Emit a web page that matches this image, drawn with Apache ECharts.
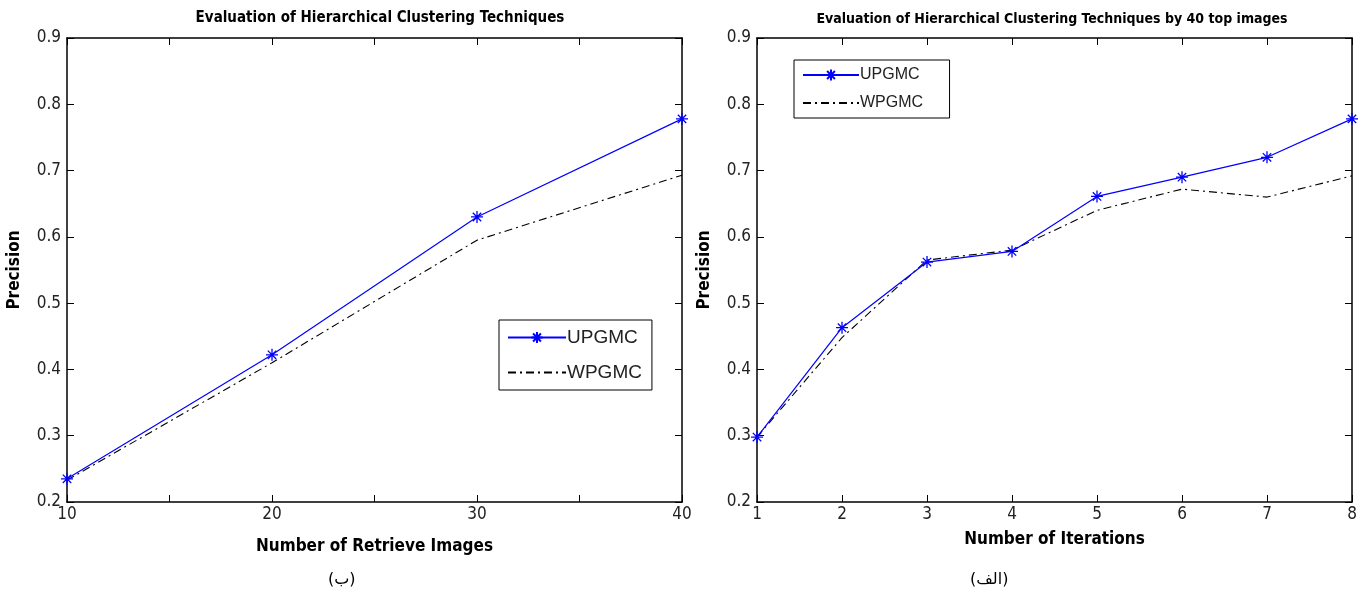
<!DOCTYPE html>
<html>
<head>
<meta charset="utf-8">
<script src="https://cdn.jsdelivr.net/npm/echarts@6/dist/echarts.min.js"></script>
<style>
  html, body { margin: 0; padding: 0; background: #fff; }
  #chart { width: 1370px; height: 601px; }
</style>
</head>
<body>
<div id="chart"></div>
<script>
// left panel: precision vs number of retrieved images
const retrieveX = [10, 20, 30, 40];
const retrieveUpgmc = [0.235, 0.422, 0.63, 0.778];
const retrieveWpgmc = [0.233, 0.41, 0.595, 0.693];

// right panel: precision vs iterations (40 top images)
const iterX = [1, 2, 3, 4, 5, 6, 7, 8];
const iterUpgmc = [0.298, 0.463, 0.562, 0.578, 0.661, 0.69, 0.72, 0.778];
const iterWpgmc = [0.298, 0.448, 0.565, 0.58, 0.64, 0.672, 0.66, 0.692];

const yTicks = [0.2, 0.3, 0.4, 0.5, 0.6, 0.7, 0.8, 0.9];

const narrow = '"DejaVu Sans Condensed", "Liberation Sans Narrow", "Liberation Sans", sans-serif';
const star = 'path://M0,-5L0,5M-5,0L5,0M-3.5,-3.5L3.5,3.5M-3.5,3.5L3.5,-3.5';
const dashDot = [8, 4, 2, 4];

function pairs(xs, ys) {
  return xs.map((x, i) => [x, ys[i]]);
}

const chart = echarts.init(document.getElementById("chart"));

// axis helpers (matlab style: box with inward ticks)
function xAxisOf(grid, min, max, interval, name, nameGap, every) {
  return [
    {
      type: "value", gridIndex: grid, min: min, max: max, interval: interval,
      name: name, nameLocation: "middle", nameGap: nameGap,
      nameTextStyle: { fontFamily: narrow, fontWeight: "bold", fontSize: 17, color: "#000" },
      axisLine: { lineStyle: { color: "#000", width: 1.5 } },
      axisTick: { inside: true, length: 7, lineStyle: { color: "#000" } },
      axisLabel: {
        fontFamily: narrow, fontSize: 17, color: "#222", margin: 4,
        formatter: v => (v % every === 0 ? String(v) : "")
      },
      splitLine: { show: false }
    },
    {
      type: "value", gridIndex: grid, position: "top", min: min, max: max, interval: interval,
      axisLine: { lineStyle: { color: "#000", width: 1.5 } },
      axisTick: { inside: true, length: 7, lineStyle: { color: "#000" } },
      axisLabel: { show: false },
      splitLine: { show: false }
    }
  ];
}

function yAxisOf(grid) {
  return [
    {
      type: "value", gridIndex: grid, min: 0.2, max: 0.9, interval: 0.1,
      name: "Precision", nameLocation: "middle", nameGap: 44,
      nameTextStyle: { fontFamily: narrow, fontWeight: "bold", fontSize: 17, color: "#000" },
      axisLine: { show: true, lineStyle: { color: "#000", width: 1.5 } },
      axisTick: { show: true, inside: true, length: 7, lineStyle: { color: "#000" } },
      axisLabel: {
        fontFamily: narrow, fontSize: 17, color: "#222", margin: 6,
        formatter: v => (yTicks.some(t => Math.abs(t - v) < 1e-6) ? v.toFixed(1) : "")
      },
      splitLine: { show: false }
    },
    {
      type: "value", gridIndex: grid, position: "right", min: 0.2, max: 0.9, interval: 0.1,
      axisLine: { show: true, lineStyle: { color: "#000", width: 1.5 } },
      axisTick: { show: true, inside: true, length: 7, lineStyle: { color: "#000" } },
      axisLabel: { show: false },
      splitLine: { show: false }
    }
  ];
}

function upSeries(name, x, y, xi, yi) {
  return {
    name: name, type: "line", xAxisIndex: xi, yAxisIndex: yi,
    data: pairs(x, y),
    symbol: star, symbolSize: 12,
    lineStyle: { color: "#0000ff", width: 1.2 },
    itemStyle: { color: "#0000ff", borderColor: "#0000ff", borderWidth: 1.3 },
    z: 3
  };
}

function wpSeries(name, x, y, xi, yi) {
  return {
    name: name, type: "line", xAxisIndex: xi, yAxisIndex: yi,
    data: pairs(x, y),
    symbol: "none",
    lineStyle: { color: "#000", width: 1.1, type: dashDot },
    itemStyle: { color: "#000" },
    z: 2
  };
}

function legendOf(left, top, names, size, gap, width, padding) {
  return {
    left: left, top: top,
    orient: "vertical",
    backgroundColor: "#fff",
    borderColor: "#000",
    borderWidth: 1,
    borderRadius: 0,
    padding: padding,
    itemWidth: width,
    itemHeight: 14,
    itemGap: gap,
    textStyle: { fontFamily: "Liberation Sans, Arial, sans-serif", fontSize: size, color: "#222", padding: [0, 0, 0, -4] },
    data: [
      { name: names[0] },
      { name: names[1], itemStyle: { opacity: 0 } }
    ]
  };
}

chart.setOption({
  backgroundColor: "#fff",
  animation: false,
  title: [
    {
      text: "Evaluation of Hierarchical Clustering Techniques",
      left: 375, top: 6, textAlign: "center",
      textStyle: { fontFamily: narrow, fontWeight: "bold", fontSize: 15, color: "#000" }
    },
    {
      text: "Evaluation of Hierarchical Clustering Techniques by 40 top images",
      left: 1047, top: 7, textAlign: "center",
      textStyle: { fontFamily: narrow, fontWeight: "bold", fontSize: 14, color: "#000" }
    }
  ],
  grid: [
    { left: 67, right: 688, top: 38, bottom: 99 },
    { left: 757, right: 18, top: 38, bottom: 99 }
  ],
  xAxis: [
    ...xAxisOf(0, 10, 40, 5, "Number of Retrieve Images", 36, 10),
    ...xAxisOf(1, 1, 8, 1, "Number of Iterations", 29, 1)
  ],
  yAxis: [...yAxisOf(0), ...yAxisOf(1)],
  legend: [
    legendOf(499, 320, ["UPGMC", "WPGMC"], 19, 16, 58, [8, 10, 8, 8]),
    legendOf(794, 60, ["UPGMC ", "WPGMC "], 16, 12, 56, [7, 22, 7, 8])
  ],
  series: [
    upSeries("UPGMC", retrieveX, retrieveUpgmc, 0, 0),
    wpSeries("WPGMC", retrieveX, retrieveWpgmc, 0, 0),
    upSeries("UPGMC ", iterX, iterUpgmc, 2, 2),
    wpSeries("WPGMC ", iterX, iterWpgmc, 2, 2)
  ],
  graphic: [
    {
      type: "text", left: 328, top: 572,
      style: { text: "(ب)", font: '16px "DejaVu Sans", "Noto Sans", sans-serif', fill: "#000" }
    },
    {
      type: "text", left: 970, top: 572,
      style: { text: "(الف)", font: '16px "DejaVu Sans", "Noto Sans", sans-serif', fill: "#000" }
    }
  ]
});
</script>
</body>
</html>
